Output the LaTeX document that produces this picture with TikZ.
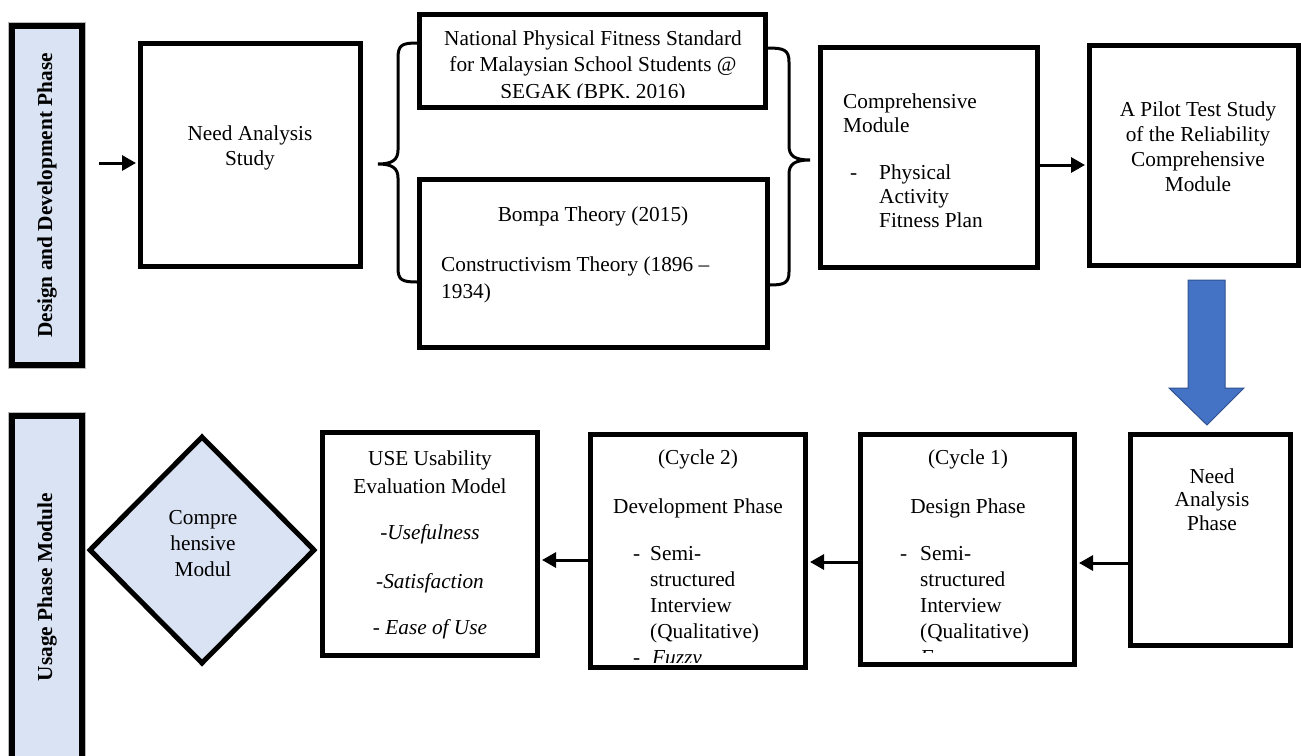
\documentclass[tikz,border=0pt]{standalone}
\usepackage{fontspec}
\setmainfont{Liberation Serif}
\usetikzlibrary{arrows.meta,shapes.geometric}
\definecolor{lblue}{HTML}{DAE3F3}
\definecolor{ablue}{HTML}{4472C4}
\definecolor{abluel}{HTML}{2F528F}
\begin{document}
\begin{tikzpicture}[x=1pt,y=-1pt,
  bx/.style={draw, line width=5pt, inner sep=0pt},
  bar/.style={draw=black, fill=lblue, line width=6pt, inner sep=0pt, preaction={draw=gray!55, line width=8pt}},
  txt/.style={inner sep=0pt, font=\fontsize{21.3}{25.5}\selectfont},
  bartxt/.style={inner sep=0pt, rotate=90, font=\fontsize{21.3}{25.5}\selectfont\bfseries},
  conn/.style={line width=3pt, -{Triangle[length=14pt,width=15pt]}, shorten >=2pt},
  brc/.style={line width=3pt, line cap=round},
  bluearrow/.style={fill=ablue, draw=abluel, line width=1pt}]
\useasboundingbox (0,0) rectangle (1301,755);
\clip (0,0) rectangle (1301,755);

% side bars
\node[bar, minimum width=70, minimum height=339] (bar1) at (47,195.5) {};
\node[bartxt] (bar1t) at (47,195.5) {Design and Development Phase};
\node[bar, minimum width=70, minimum height=344] (bar2) at (47,588) {};
\node[bartxt] (bar2t) at (47,587) {Usage Phase Module};

% top row boxes
\node[bx, minimum width=220, minimum height=223] (nas) at (250.5,155) {};
\node[bx, minimum width=346, minimum height=93] (nps) at (592.5,61) {};
\node[bx, minimum width=348, minimum height=168] (bompa) at (593.5,263.5) {};
\node[bx, minimum width=217, minimum height=220] (comp) at (929,157.5) {};
\node[bx, minimum width=208.5, minimum height=220] (pilot) at (1193.75,155.5) {};

% bottom row boxes
\node[bx, minimum width=160, minimum height=211] (nap) at (1210.5,540) {};
\node[bx, minimum width=214, minimum height=230] (c1) at (967.5,549.5) {};
\node[bx, minimum width=215, minimum height=233] (c2) at (698,551) {};
\node[bx, minimum width=215, minimum height=223] (use) at (430,544) {};
\node[diamond, draw, fill=lblue, line width=5pt, inner sep=0pt, minimum width=226, minimum height=228] (cm) at (202,550) {};

% texts: Need Analysis Study
\foreach \t [count=\i] in {Need Analysis, Study}
  \node[txt, anchor=base] (nast\i) at ({250},{140+25*(\i-1)}) {\t};

% National Physical Fitness Standard (clipped)
\begin{scope}
  \clip (420,17) rectangle (765,97);
  \foreach \t [count=\i] in {National Physical Fitness Standard, for Malaysian School Students @, {SEGAK (BPK, 2016)}}
    \node[txt, anchor=base] (npst\i) at ({593},{45+26.5*(\i-1)}) {\t};
\end{scope}

% Bompa box
\node[txt, anchor=base] (bt1) at (593,221) {Bompa Theory (2015)};
\node[txt, anchor=base west] (bt2) at (441,271) {Constructivism Theory (1896 –};
\node[txt, anchor=base west] (bt3) at (441,298) {1934)};

% Comprehensive Module
\node[txt, anchor=base west] (ct1) at (843,108) {Comprehensive};
\node[txt, anchor=base west] (ct2) at (843,132) {Module};
\node[txt, anchor=base west] (ct3) at (850,179) {-};
\foreach \t [count=\i] in {Physical, Activity, Fitness Plan}
  \node[txt, anchor=base west] (ctl\i) at ({879},{179+24*(\i-1)}) {\t};

% Pilot
\foreach \t [count=\i] in {A Pilot Test Study, of the Reliability, Comprehensive, Module}
  \node[txt, anchor=base] (pt\i) at ({1198},{116+25*(\i-1)}) {\t};

% Need Analysis Phase
\foreach \t [count=\i] in {Need, Analysis, Phase}
  \node[txt, anchor=base] (napt\i) at ({1212},{483+23.5*(\i-1)}) {\t};

% Cycle 1
\node[txt, anchor=base] (c1h) at (968,464) {(Cycle 1)};
\node[txt, anchor=base] (c1p) at (968,513) {Design Phase};
\begin{scope}
  \clip (863,440) rectangle (1072,652.5);
  \node[txt, anchor=base west] (c1d) at (900,560) {-};
  \foreach \t [count=\i] in {Semi-, structured, Interview, (Qualitative)}
    \node[txt, anchor=base west] (c1l\i) at ({920},{560+26*(\i-1)}) {\t};
  \node[txt, anchor=base west] (c1d2) at (900,664) {-};
  \node[txt, anchor=base west] (c1f) at (920,664) {\itshape Fuzzy};
\end{scope}

% Cycle 2
\node[txt, anchor=base] (c2h) at (698,464) {(Cycle 2)};
\node[txt, anchor=base] (c2p) at (698,513) {Development Phase};
\begin{scope}
  \clip (593,440) rectangle (803,662);
  \node[txt, anchor=base west] (c2d) at (633,560) {-};
  \foreach \t [count=\i] in {Semi-, structured, Interview, (Qualitative)}
    \node[txt, anchor=base west] (c2l\i) at ({650},{560+26*(\i-1)}) {\t};
  \node[txt, anchor=base west] (c2d2) at (633,664) {-};
  \node[txt, anchor=base west] (c2f) at (652,664) {\itshape Fuzzy};
\end{scope}

% USE box
\node[txt, anchor=base] (ut1) at (430,465) {USE Usability};
\node[txt, anchor=base] (ut2) at (430,493) {Evaluation Model};
\node[txt, anchor=base] (ut3) at (430,539) {-\textit{Usefulness}};
\node[txt, anchor=base] (ut4) at (430,588) {-\textit{Satisfaction}};
\node[txt, anchor=base] (ut5) at (430,634) {- \textit{Ease of Use}};

% diamond text
\foreach \t [count=\i] in {Compre, hensive, Modul}
  \node[txt, anchor=base] (cmt\i) at ({203},{524+26*(\i-1)}) {\t};

% braces
\draw[brc] (417,43) .. controls (402,43) and (398,45) .. (398,58) -- (398,150)
  .. controls (398,160) and (392,164) .. (378,164)
  .. controls (392,164) and (398,168) .. (398,178) -- (398,268)
  .. controls (398,280) and (402,282) .. (417,282);
\draw[brc] (768,48) .. controls (784,48) and (789,50) .. (789,62) -- (789,146)
  .. controls (789,156) and (795,160) .. (810,160)
  .. controls (795,160) and (789,164) .. (789,174) -- (789,272)
  .. controls (789,283) and (784,285) .. (770,285);

% connectors
\coordinate (in0) at (99,163);
\draw[conn] (in0) -- (in0 -| nas.west);
\coordinate (y1) at (0,165);
\draw[conn] (comp.east |- y1) -- (pilot.west |- y1);
\coordinate (y2) at (0,563);
\draw[conn] (nap.west |- y2) -- (c1.east |- y2);
\coordinate (y3) at (0,562);
\draw[conn] (c1.west |- y3) -- (c2.east |- y3);
\coordinate (y4) at (0,560);
\draw[conn] (c2.west |- y4) -- (use.east |- y4);

% blue block arrow
\draw[bluearrow] (1188,280) -- (1225,280) -- (1225,388) -- (1244,388) -- (1207,425) -- (1169,388) -- (1188,388) -- cycle;
\end{tikzpicture}
\end{document}
